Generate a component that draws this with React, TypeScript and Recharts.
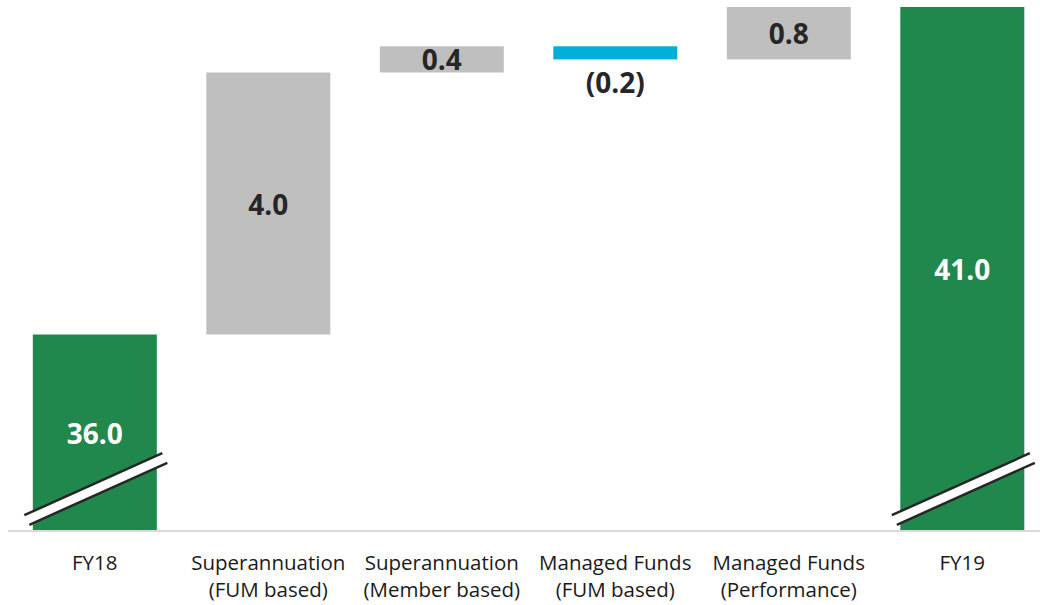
import { BarChart, Bar, XAxis, YAxis, Cell, LabelList } from "recharts";

// waterfall: FY18 -> FY19 revenue bridge
const categories = [
  "FY18",
  "Superannuation\n(FUM based)",
  "Superannuation\n(Member based)",
  "Managed Funds\n(FUM based)",
  "Managed Funds\n(Performance)",
  "FY19",
];
const changes = [36.0, 4.0, 0.4, -0.2, 0.8, 41.0];
const kinds = ["total", "up", "up", "down", "up", "total"];
const valueLabels = ["36.0", "4.0", "0.4", "(0.2)", "0.8", "41.0"];

// broken axis: totals start at the bottom of the visible range
const AXIS_MIN = 33;
const AXIS_MAX = 41;

const COLORS: Record<string, string> = {
  total: "#21884d",
  up: "#bfbfbf",
  down: "#00b0d8",
};

const FONT = "'Open Sans', 'Noto Sans', sans-serif";

let running = 0;
const data = categories.map((name, i) => {
  const kind = kinds[i];
  let range: [number, number];
  if (kind === "total") {
    running = changes[i];
    range = [AXIS_MIN, changes[i]];
  } else {
    const start = running;
    running = start + changes[i];
    range = [Math.min(start, running), Math.max(start, running)];
  }
  return { name, range, kind, label: valueLabels[i] };
});

function CategoryTick({ x, y, payload }: any) {
  const lines = String(payload.value).split("\n");
  return (
    <text x={x} y={y} textAnchor="middle" fill="#1a1a1a" fontSize={20.5} fontFamily={FONT}>
      {lines.map((line, i) => (
        <tspan key={i} x={x} dy={i === 0 ? 39 : 27}>
          {line}
        </tspan>
      ))}
    </text>
  );
}

function WaterfallBar(props: any) {
  const { x, y, width, height, fill, payload } = props;
  const top = height < 0 ? y + height : y;
  const h = Math.abs(height);
  const rect = <rect x={x} y={top} width={width} height={h} fill={fill} />;
  if (payload.kind !== "total") return rect;

  // axis-break mark near the bottom of the total bars
  const cx = x + width / 2 + 1;
  const cy = top + h - 42;
  const hx = 69;
  const hy = 31;
  const ox = 2.5;
  const oy = 4.8;
  const band = [
    [cx - hx - ox, cy + hy - oy],
    [cx + hx - ox, cy - hy - oy],
    [cx + hx + ox, cy - hy + oy],
    [cx - hx + ox, cy + hy + oy],
  ]
    .map((p) => p.join(","))
    .join(" ");
  return (
    <g>
      {rect}
      <polygon points={band} fill="#ffffff" />
      <line x1={cx - hx - ox} y1={cy + hy - oy} x2={cx + hx - ox} y2={cy - hy - oy} stroke="#262626" strokeWidth={2.5} />
      <line x1={cx - hx + ox} y1={cy + hy + oy} x2={cx + hx + ox} y2={cy - hy + oy} stroke="#262626" strokeWidth={2.5} />
    </g>
  );
}

function ValueLabel(props: any) {
  const { x, y, width, height, index } = props;
  const item = data[index];
  const top = height < 0 ? y + height : y;
  const h = Math.abs(height);
  const cx = x + width / 2;
  const cy = item.kind === "down" ? top + h + 23 : top + h / 2;
  return (
    <text
      x={cx}
      y={cy}
      textAnchor="middle"
      dominantBaseline="central"
      fill={item.kind === "total" ? "#ffffff" : "#262626"}
      fontSize={28}
      fontWeight={700}
      fontFamily={FONT}
    >
      {item.label}
    </text>
  );
}

export default function App() {
  return (
    <div
      style={{
        position: "absolute",
        left: 0,
        top: 0,
        width: 1040,
        height: 605,
        overflow: "hidden",
        background: "#ffffff",
      }}
    >
      <BarChart
        width={1049}
        height={605}
        data={data}
        margin={{ top: 7, right: 0, left: 8, bottom: 0 }}
        barCategoryGap="14.3%"
      >
        <XAxis
          dataKey="name"
          interval={0}
          height={74}
          tickLine={false}
          tickSize={0}
          tickMargin={0}
          axisLine={{ stroke: "#d9d9d9", strokeWidth: 2 }}
          tick={<CategoryTick />}
        />
        <YAxis hide domain={[AXIS_MIN, AXIS_MAX]} allowDataOverflow />
        <Bar dataKey="range" shape={<WaterfallBar />} isAnimationActive={false}>
          {data.map((d, i) => (
            <Cell key={i} fill={COLORS[d.kind]} />
          ))}
          <LabelList dataKey="label" content={<ValueLabel />} />
        </Bar>
      </BarChart>
    </div>
  );
}
